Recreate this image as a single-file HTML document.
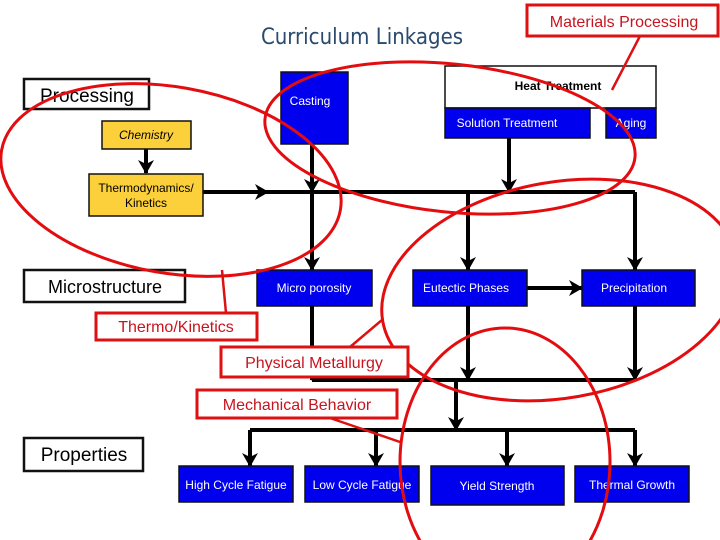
<!DOCTYPE html>
<html><head><meta charset="utf-8"><style>
html,body{margin:0;background:#fff;width:720px;height:540px;overflow:hidden}
svg{display:block}
text{font-family:"Liberation Sans",sans-serif}
.b{fill:#0000ee;stroke:#111;stroke-width:1.5}
.w{fill:#fff;stroke:#111;stroke-width:2.5}
.y{fill:#fcd03a;stroke:#111;stroke-width:1.5}
.t{fill:#fff;font-size:12px;text-anchor:middle}
.l{stroke:#000;stroke-width:4;fill:none}
.r{fill:#fff;stroke:#dd1111;stroke-width:3}
.rt{fill:#c8141e;font-size:16px;text-anchor:middle}
.e{fill:none;stroke:#e30d10;stroke-width:3}
</style></head><body>
<svg width="720" height="540" viewBox="0 0 720 540">
<defs><marker id="A" markerWidth="14" markerHeight="18" refX="13" refY="9" orient="auto" markerUnits="userSpaceOnUse"><path d="M0,1 L14,9 L0,17 L4,9z" fill="#000"/></marker></defs>
<text x="362" y="44" font-size="22" fill="#2a4a6e" text-anchor="middle" style="font-family:'DejaVu Sans Condensed','Liberation Sans',sans-serif">Curriculum Linkages</text>
<path class="l" d="M203 192 H635"/>
<path class="l" d="M203 192 H268" marker-end="url(#A)"/>
<path class="l" d="M146 149 V173" marker-end="url(#A)"/>
<path class="l" d="M312 144 V192" marker-end="url(#A)"/>
<path class="l" d="M312 192 V270" marker-end="url(#A)"/>
<path class="l" d="M509 138 V192" marker-end="url(#A)"/>
<path class="l" d="M468 192 V270" marker-end="url(#A)"/>
<path class="l" d="M635 192 V270" marker-end="url(#A)"/>
<path class="l" d="M527 288 H582" marker-end="url(#A)"/>
<path class="l" d="M312 306 V380" marker-end="url(#A)"/>
<path class="l" d="M468 306 V380" marker-end="url(#A)"/>
<path class="l" d="M635 306 V380" marker-end="url(#A)"/>
<path class="l" d="M312 380 H635"/>
<path class="l" d="M456 380 V430" marker-end="url(#A)"/>
<path class="l" d="M250 430 H635"/>
<path class="l" d="M250 430 V466" marker-end="url(#A)"/>
<path class="l" d="M376 430 V466" marker-end="url(#A)"/>
<path class="l" d="M507 430 V466" marker-end="url(#A)"/>
<path class="l" d="M635 430 V466" marker-end="url(#A)"/>
<rect class="w" x="24" y="79" width="125" height="30"/><text x="87" y="102" font-size="19" text-anchor="middle">Processing</text>
<rect class="y" x="102" y="121" width="89" height="28"/><text x="146" y="139" font-size="12" font-style="italic" text-anchor="middle">Chemistry</text>
<rect class="y" x="89" y="174" width="114" height="42"/><text x="146" y="192" font-size="12" text-anchor="middle">Thermodynamics/</text><text x="146" y="207" font-size="12" text-anchor="middle">Kinetics</text>
<rect class="b" x="281" y="72" width="67" height="72"/><text class="t" x="310" y="105">Casting</text>
<rect class="w" x="445" y="66" width="211" height="42" style="stroke-width:1.5"/><text x="558" y="90" font-size="12" font-weight="bold" text-anchor="middle">Heat Treatment</text>
<rect class="b" x="445" y="108" width="145" height="30"/><text class="t" x="507" y="127">Solution Treatment</text>
<rect class="b" x="606" y="108" width="50" height="30"/><text class="t" x="631" y="127">Aging</text>
<rect class="w" x="24" y="270" width="161" height="32"/><text x="105" y="293" font-size="18" text-anchor="middle">Microstructure</text>
<rect class="b" x="257" y="270" width="115" height="36"/><text class="t" x="314" y="292">Micro porosity</text>
<rect class="b" x="413" y="270" width="114" height="36"/><text class="t" x="466" y="292">Eutectic Phases</text>
<rect class="b" x="582" y="270" width="113" height="36"/><text class="t" x="634" y="292">Precipitation</text>
<rect class="w" x="24" y="438" width="119" height="33"/><text x="84" y="461" font-size="19" text-anchor="middle">Properties</text>
<rect class="b" x="179" y="466" width="114" height="36"/><text class="t" x="236" y="489">High Cycle Fatigue</text>
<rect class="b" x="305" y="466" width="114" height="36"/><text class="t" x="362" y="489">Low Cycle Fatigue</text>
<rect class="b" x="431" y="466" width="133" height="39"/><text class="t" x="497" y="490">Yield Strength</text>
<rect class="b" x="575" y="466" width="114" height="36"/><text class="t" x="632" y="489">Thermal Growth</text>
<path d="M640 36 L612 90 M222 270 L226 313 M382 320 L350 347 M330 418 L400 442" stroke="#dd1111" stroke-width="2.5" fill="none"/>
<ellipse class="e" cx="171" cy="180" rx="172" ry="93" transform="rotate(10 171 180)"/>
<ellipse class="e" cx="450" cy="138" rx="186" ry="74" transform="rotate(6 450 138)"/>
<ellipse class="e" cx="560" cy="290" rx="180" ry="108" transform="rotate(-10 560 290)"/>
<ellipse class="e" cx="505" cy="462" rx="105" ry="134"/>
<rect class="r" x="527" y="5" width="191" height="31"/><text class="rt" x="624" y="27">Materials Processing</text>
<rect class="r" x="96" y="313" width="161" height="27"/><text class="rt" x="176" y="332">Thermo/Kinetics</text>
<rect class="r" x="221" y="347" width="187" height="30"/><text class="rt" x="314" y="368">Physical Metallurgy</text>
<rect class="r" x="197" y="390" width="200" height="28"/><text class="rt" x="297" y="410">Mechanical Behavior</text>
</svg>
</body></html>
